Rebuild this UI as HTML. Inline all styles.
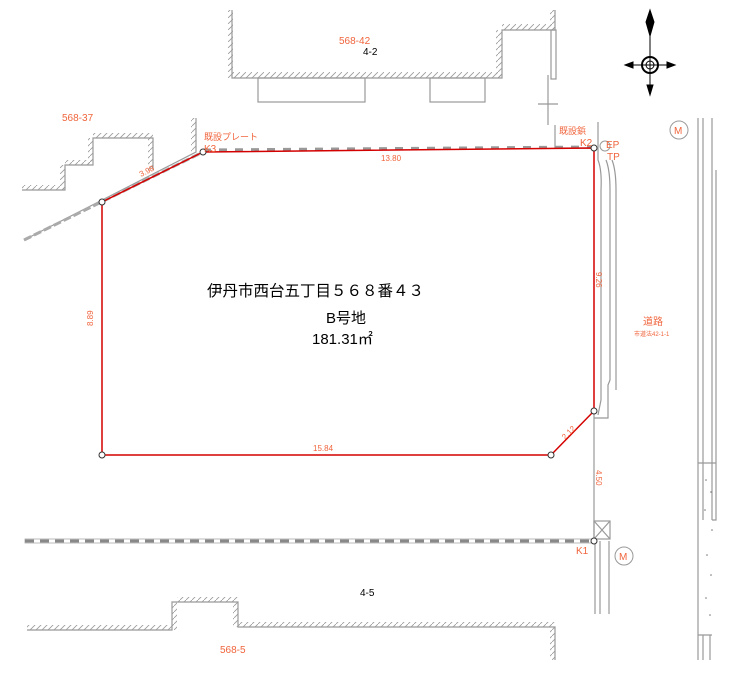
<!DOCTYPE html>
<html><head><meta charset="utf-8"><style>
html,body{margin:0;padding:0;background:#fff;width:744px;height:673px;overflow:hidden}
svg{display:block}
text{font-family:"Liberation Sans","Noto Sans CJK JP",sans-serif}
.o{fill:#f0643c}
</style></head><body>
<svg width="744" height="673" viewBox="0 0 744 673">
<defs>
<pattern id="h" width="6" height="6" patternUnits="userSpaceOnUse"><path d="M0 6L6 0" stroke="#999" stroke-width="0.8"/></pattern>
</defs>
<g fill="none" stroke="#999" stroke-width="1.2">
<path d="M232 10V78H502V30H555V10"/>
<rect x="258" y="78" width="107" height="24"/>
<rect x="430" y="78" width="55" height="24"/>
<rect x="551" y="30" width="5" height="49"/>
<path d="M548 75V125M538 104H558"/>
<path d="M22 190H65V165H93V138H153V170"/>
<path d="M196 118V152L24 240"/>
<path d="M555 125V148H594"/>
<path d="M598 122V160Q602 170 601 190V400L598 415"/>
<path d="M606 160Q610 170 610 190V380L608 385V418H594"/>
<path d="M612 160Q616 170 616 190V390"/>
<path d="M594 411V541"/>
<rect x="594" y="521" width="16" height="18"/>
<path d="M594 521L610 539M610 521L594 539"/>
<path d="M595 541V614M600 541V614M609 541V614"/>
<path d="M698 118V660M703 118V520M712 118V520M716 170V520H712"/>
<path d="M698 463H716M703 635V660M710 635V660M698 635H712"/>
<path d="M27 630H172V602H238V627H555V660"/>
</g>
<g fill="url(#h)">
<rect x="232" y="72" width="270" height="6"/><rect x="228" y="10" width="5" height="68"/>
<rect x="496" y="30" width="6" height="48"/><rect x="502" y="24" width="53" height="6"/>
<rect x="550" y="10" width="5" height="20"/>
<rect x="22" y="185" width="43" height="5"/><rect x="60" y="165" width="5" height="25"/><rect x="65" y="160" width="28" height="5"/>
<rect x="88" y="138" width="5" height="27"/><rect x="93" y="133" width="60" height="5"/><rect x="148" y="138" width="5" height="32"/>
<rect x="191" y="118" width="5" height="34"/>
<rect x="27" y="625" width="145" height="5"/><rect x="172" y="602" width="5" height="28"/><rect x="177" y="597" width="61" height="5"/><rect x="233" y="602" width="5" height="25"/><rect x="238" y="622" width="317" height="5"/><rect x="550" y="627" width="5" height="33"/>
</g>
<rect x="25" y="539" width="568" height="4" fill="#fff" stroke="#aaa" stroke-width="0.8"/>
<line x1="25" y1="541" x2="593" y2="541" stroke="#888" stroke-width="3" stroke-dasharray="9,6"/>
<line x1="203" y1="150" x2="594" y2="147" stroke="#999" stroke-width="3" stroke-dasharray="8,8"/>
<line x1="24" y1="240" x2="203" y2="152" stroke="#aaa" stroke-width="3" stroke-dasharray="8,3"/>
<path d="M102 202L203 152L594 148V411L551 455H102Z" fill="none" stroke="#d40000" stroke-width="1.5"/>
<g fill="#fff" stroke="#333" stroke-width="1">
<circle cx="102" cy="202" r="3"/><circle cx="203" cy="152" r="3"/><circle cx="594" cy="148" r="3"/><circle cx="594" cy="411" r="3"/><circle cx="551" cy="455" r="3"/><circle cx="102" cy="455" r="3"/><circle cx="594" cy="541" r="3"/>
</g>
<circle cx="605" cy="146" r="5" fill="none" stroke="#999"/>
<circle cx="679" cy="130" r="9" fill="none" stroke="#999"/>
<circle cx="624" cy="556" r="9" fill="none" stroke="#999"/>
<g stroke="#000" fill="#000">
<path d="M650 10L654 22L650 36L646 22Z"/>
<line x1="650" y1="36" x2="650" y2="95"/>
<path d="M625 65L633 62V68ZM675 65L667 62V68ZM650 95L647 85H653Z"/>
<line x1="625" y1="65" x2="675" y2="65"/>
<circle cx="650" cy="65" r="8" fill="none" stroke-width="2"/>
<circle cx="650" cy="65" r="4" fill="none"/>
</g>
<g fill="#777"><circle cx="706" cy="480" r="0.8"/><circle cx="711" cy="492" r="0.8"/><circle cx="705" cy="510" r="0.8"/><circle cx="712" cy="530" r="0.8"/><circle cx="707" cy="555" r="0.8"/><circle cx="711" cy="575" r="0.8"/><circle cx="706" cy="598" r="0.8"/><circle cx="710" cy="615" r="0.8"/></g>
<g class="o" font-size="10">
<text x="339" y="44">568-42</text>
<text x="62" y="121">568-37</text>
<text x="220" y="653">568-5</text>
<text x="204" y="140" font-size="9">既設プレート</text>
<text x="204" y="152">K3</text>
<text x="559" y="134" font-size="9">既設鋲</text>
<text x="580" y="146">K2</text>
<text x="606" y="148">EP</text>
<text x="607" y="160">TP</text>
<text x="576" y="554">K1</text>
<text x="674" y="134">M</text>
<text x="619" y="560">M</text>
<text x="643" y="325">道路</text>
<text x="634" y="336" font-size="6">市道法42-1-1</text>
<text x="381" y="161" font-size="8">13.80</text>
<text x="313" y="451" font-size="8">15.84</text>
<text transform="translate(141 177) rotate(-27)" font-size="8">3.98</text>
<text transform="translate(93 326) rotate(-90)" font-size="8">8.89</text>
<text transform="translate(596 272) rotate(90)" font-size="8">9.26</text>
<text transform="translate(565 440) rotate(-45)" font-size="8">2.12</text>
<text transform="translate(596 470) rotate(90)" font-size="8">4.50</text>
</g>
<g fill="#000">
<text x="363" y="55" font-size="10">4-2</text>
<text x="360" y="596" font-size="10">4-5</text>
<text x="207" y="296" font-size="15.5">伊丹市西台五丁目５６８番４３</text>
<text x="326" y="323" font-size="15">B号地</text>
<text x="312" y="344" font-size="15">181.31㎡</text>
</g>
</svg>
</body></html>
